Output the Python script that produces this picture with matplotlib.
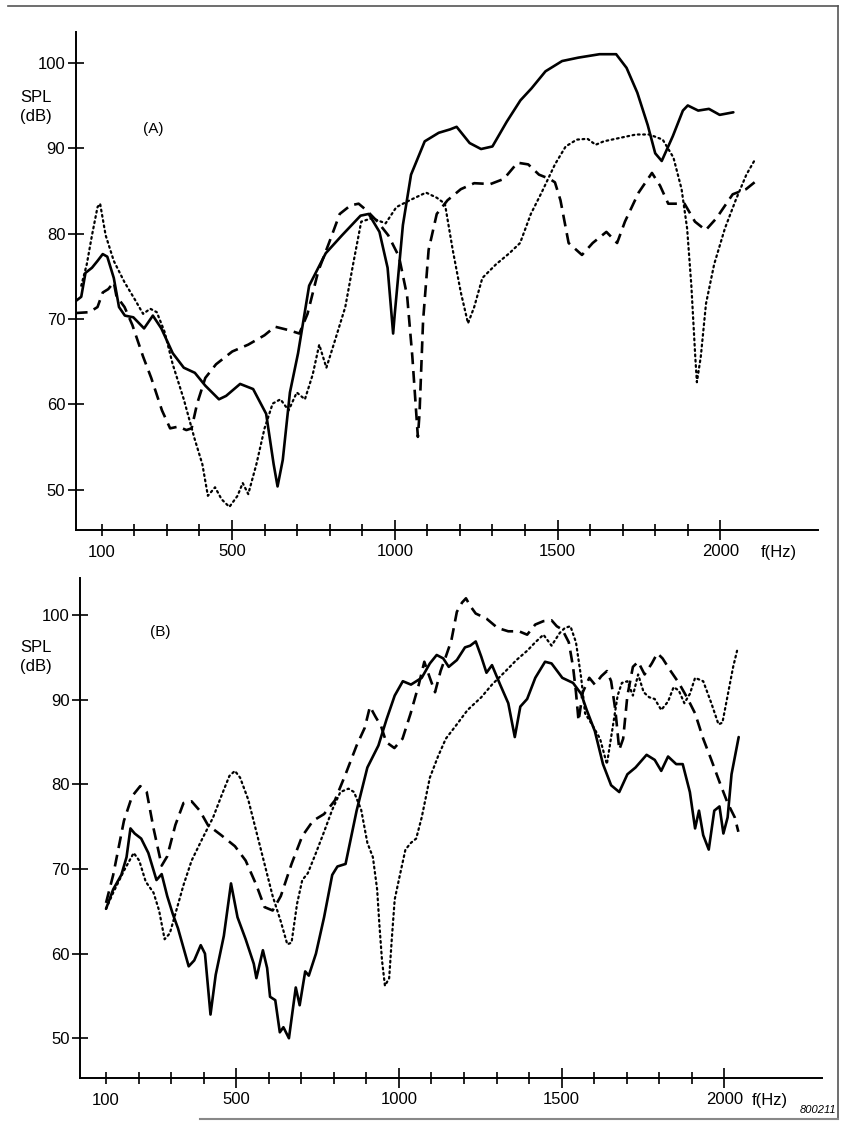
import matplotlib
matplotlib.use("Agg")
import matplotlib.pyplot as plt
from matplotlib.ticker import FixedLocator

plt.rcParams['font.family'] = ['Liberation Sans Narrow', 'Liberation Sans', 'DejaVu Sans']

# ---------------- Panel A data ----------------
a_solid_f = [20, 37, 50, 70, 87, 103, 117, 137, 153, 171, 197, 230, 257, 283, 318, 352, 386, 418, 460, 482,
             525, 565, 605, 628, 640, 656, 678, 703, 737, 788, 838, 895, 920, 953, 978, 995, 1000, 1025, 1050,
             1092, 1135, 1170, 1190, 1230, 1265, 1300, 1344, 1386, 1420, 1463, 1514, 1564, 1629, 1680, 1712,
             1745, 1777, 1800, 1820, 1854, 1885, 1900, 1932, 1965, 1998, 2040]
a_solid_db = [72.1, 72.6, 75.4, 76.0, 76.8, 77.6, 77.3, 74.8, 71.4, 70.4, 70.2, 68.9, 70.4, 68.9, 66.0, 64.3,
              63.7, 62.2, 60.6, 61.0, 62.4, 61.8, 58.9, 53.0, 50.4, 53.5, 61.4, 66.0, 73.9, 77.7, 79.8, 82.1,
              82.3, 80.2, 76.0, 68.3, 70.6, 81.0, 86.9, 90.8, 91.8, 92.2, 92.5, 90.6, 89.9, 90.2, 93.1, 95.6,
              97.0, 99.0, 100.2, 100.6, 101.0, 101.0, 99.4, 96.5, 92.7, 89.4, 88.5, 91.4, 94.4, 95.0, 94.4,
              94.6, 93.9, 94.2]

a_dash_f = [20, 62, 87, 103, 120, 137, 145, 170, 194, 227, 252, 285, 310, 335, 360, 376, 393, 418, 451, 501,
            550, 600, 632, 674, 707, 732, 765, 798, 831, 864, 889, 914, 947, 980, 1013, 1038, 1054, 1071, 1076,
            1087, 1104, 1129, 1162, 1203, 1244, 1294, 1335, 1377, 1410, 1443, 1476, 1492, 1509, 1534, 1575,
            1608, 1650, 1683, 1707, 1749, 1790, 1815, 1840, 1890, 1922, 1955, 1988, 2038, 2079, 2118]
a_dash_db = [70.7, 70.8, 71.4, 73.1, 73.5, 74.3, 72.7, 71.4, 69.3, 65.6, 63.1, 59.3, 57.2, 57.4, 57.0, 57.2,
             60.1, 63.1, 64.7, 66.2, 67.0, 68.1, 69.1, 68.7, 68.3, 70.6, 75.6, 78.9, 82.3, 83.3, 83.5, 82.7,
             81.4, 79.8, 77.3, 72.7, 65.6, 56.2, 58.9, 69.8, 78.1, 82.3, 83.9, 85.2, 85.9, 85.8, 86.4, 88.3,
             88.1, 86.9, 86.4, 86.0, 83.9, 78.9, 77.5, 78.9, 80.2, 78.9, 81.4, 84.8, 87.1, 85.6, 83.5, 83.5,
             81.4, 80.4, 81.8, 84.6, 85.2, 86.4]

a_dot_f = [37, 54, 70, 87, 95, 112, 137, 170, 203, 227, 249, 269, 293, 318, 352, 385, 409, 426, 448, 468, 492,
           517, 533, 550, 575, 600, 625, 649, 674, 699, 724, 748, 768, 790, 814, 848, 872, 897, 930, 972, 1005,
           1046, 1096, 1129, 1154, 1178, 1203, 1225, 1244, 1269, 1311, 1352, 1385, 1418, 1451, 1492, 1525, 1559,
           1592, 1617, 1642, 1691, 1741, 1782, 1823, 1856, 1881, 1898, 1911, 1923, 1928, 1940, 1956, 1981,
           2014, 2047, 2080, 2104]
a_dot_db = [73.9, 76.4, 79.8, 83.1, 83.5, 79.8, 76.8, 74.3, 72.2, 70.6, 71.2, 70.8, 68.5, 64.7, 60.6, 56.0,
            53.0, 49.3, 50.3, 48.9, 48.0, 49.3, 50.8, 49.5, 53.0, 57.2, 60.1, 60.6, 59.3, 61.4, 60.6, 63.5,
            67.0, 64.3, 67.2, 71.4, 76.4, 81.4, 81.8, 81.2, 83.1, 83.9, 84.8, 84.2, 83.5, 78.1, 73.1, 69.5,
            71.4, 74.8, 76.4, 77.7, 78.9, 82.3, 84.8, 88.1, 90.2, 91.0, 91.1, 90.4, 90.8, 91.2, 91.6, 91.6,
            91.0, 88.9, 85.2, 80.6, 73.9, 65.6, 62.6, 65.6, 71.8, 76.4, 80.6, 83.9, 86.9, 88.5]

# ---------------- Panel B data ----------------
b_solid_f = [100, 122, 147, 163, 175, 188, 208, 230, 255, 271, 288, 305, 321, 354, 371, 391, 404, 421, 437,
             462, 484, 504, 529, 554, 562, 582, 595, 604, 620, 634, 645, 662, 683, 695, 712, 723, 745, 770,
             795, 811, 836, 870, 903, 937, 962, 987, 1012, 1037, 1070, 1095, 1116, 1136, 1153, 1178, 1203,
             1219, 1236, 1253, 1269, 1286, 1311, 1336, 1356, 1373, 1394, 1419, 1449, 1469, 1502, 1535, 1560,
             1577, 1602, 1627, 1652, 1677, 1702, 1727, 1761, 1786, 1806, 1827, 1852, 1872, 1894, 1910, 1922,
             1935, 1952, 1969, 1985, 1997, 2010, 2022, 2044]
b_solid_db = [65.3, 67.6, 69.3, 71.4, 74.8, 74.2, 73.6, 71.9, 68.7, 69.4, 66.8, 64.7, 63.0, 58.5, 59.2, 61.0,
              60.0, 52.8, 57.5, 62.1, 68.3, 64.3, 61.7, 58.8, 57.1, 60.4, 58.3, 54.9, 54.5, 50.7, 51.3, 50.0,
              56.0, 53.9, 57.9, 57.4, 60.0, 64.3, 69.3, 70.3, 70.6, 76.9, 82.0, 84.6, 87.7, 90.5, 92.2, 91.8,
              92.6, 94.3, 95.3, 94.9, 93.9, 94.7, 96.2, 96.4, 96.9, 95.1, 93.2, 94.1, 91.8, 89.6, 85.6, 89.2,
              90.1, 92.6, 94.5, 94.3, 92.6, 92.0, 90.7, 88.8, 86.3, 82.4, 79.9, 79.1, 81.2, 82.0, 83.5, 82.9,
              81.6, 83.3, 82.4, 82.4, 79.1, 74.8, 76.9, 74.0, 72.3, 76.9, 77.4, 74.2, 76.1, 81.2, 85.6]

b_dash_f = [100, 122, 155, 180, 205, 225, 246, 271, 288, 313, 338, 363, 388, 413, 454, 496, 529, 562, 587, 612,
            637, 670, 703, 736, 770, 803, 836, 870, 895, 911, 928, 945, 961, 986, 1011, 1036, 1061, 1078, 1095,
            1111, 1128, 1144, 1161, 1178, 1194, 1206, 1219, 1236, 1269, 1303, 1336, 1369, 1394, 1419, 1444,
            1469, 1485, 1502, 1522, 1535, 1544, 1552, 1565, 1585, 1602, 1622, 1639, 1652, 1665, 1677, 1689,
            1702, 1719, 1735, 1755, 1777, 1794, 1810, 1835, 1860, 1885, 1910, 1935, 1960, 1985, 2010, 2032, 2043]
b_dash_db = [66.0, 69.3, 75.7, 78.6, 79.8, 79.1, 74.8, 70.4, 71.5, 75.2, 77.8, 78.0, 76.9, 75.2, 74.0, 72.7,
             71.0, 68.1, 65.5, 65.1, 66.8, 70.6, 73.9, 75.7, 76.5, 78.1, 81.2, 84.6, 86.7, 89.2, 88.0, 86.9,
             85.0, 84.3, 85.4, 88.4, 91.8, 94.5, 92.6, 90.9, 93.4, 95.1, 97.0, 100.4, 101.5, 102.0, 101.1,
             100.2, 99.6, 98.5, 98.1, 98.1, 97.7, 98.9, 99.3, 99.4, 98.7, 98.3, 96.8, 93.9, 90.9, 87.5, 90.9,
             92.6, 91.8, 92.8, 93.4, 92.2, 88.8, 84.1, 85.4, 90.5, 93.9, 94.5, 93.0, 94.3, 95.5, 94.9, 93.4,
             92.0, 90.3, 88.4, 85.4, 82.9, 80.3, 77.8, 76.1, 74.4]

b_dot_f = [100, 122, 155, 185, 202, 222, 246, 263, 280, 296, 313, 338, 363, 396, 429, 454, 479, 496, 512, 537,
           562, 587, 612, 637, 657, 670, 687, 703, 720, 745, 770, 795, 820, 845, 862, 884, 903, 920, 933, 940,
           948, 957, 970, 978, 987, 1003, 1020, 1037, 1053, 1070, 1095, 1120, 1144, 1178, 1211, 1253, 1286,
           1328, 1361, 1394, 1419, 1444, 1469, 1494, 1510, 1527, 1544, 1560, 1572, 1593, 1618, 1639, 1655,
           1672, 1685, 1702, 1719, 1735, 1752, 1769, 1786, 1806, 1827, 1844, 1860, 1877, 1894, 1910, 1935,
           1960, 1982, 1994, 2010, 2027, 2039]
b_dot_db = [65.3, 67.2, 69.8, 71.9, 71.0, 68.5, 67.2, 65.1, 61.7, 62.4, 64.7, 68.1, 71.0, 73.6, 76.1, 78.6,
            81.0, 81.6, 80.8, 78.2, 74.4, 70.6, 66.8, 63.8, 61.1, 61.3, 65.9, 68.7, 69.5, 71.9, 74.4, 77.0,
            79.1, 79.5, 79.1, 77.0, 73.1, 71.4, 67.6, 63.4, 59.2, 56.2, 57.1, 61.7, 66.4, 69.3, 72.3, 73.1,
            73.6, 76.1, 80.8, 83.3, 85.4, 87.1, 88.8, 90.3, 91.8, 93.4, 94.7, 95.8, 96.8, 97.7, 96.4, 97.9,
            98.5, 98.7, 96.8, 92.6, 88.4, 87.1, 85.4, 82.4, 86.3, 90.5, 92.0, 92.2, 90.5, 93.0, 90.9, 90.3,
            90.1, 88.8, 89.8, 91.5, 91.1, 89.6, 90.7, 92.6, 92.2, 89.6, 87.1, 87.3, 90.5, 93.9, 95.8]

x_major = [500, 1000, 1500, 2000]
x_minor = [100, 200, 300, 400, 600, 700, 800, 900, 1100, 1200, 1300, 1400, 1600, 1700, 1800, 1900]
x_labels = ['500', '1000', '1500', '2000']
y_ticks = [50, 60, 70, 80, 90, 100]

W, H = 847, 1123
fig = plt.figure(figsize=(W / 100, H / 100), dpi=100)

SOLID = dict(color='black', lw=1.9, ls='-', solid_joinstyle='round', solid_capstyle='round')
DASH = dict(color='black', lw=1.9, ls=(0, (4.5, 2.6)))
DOT = dict(color='black', lw=1.6, ls=(0, (0.8, 1.6)), dash_capstyle='round')


def make_axes(rect, ytop, label, label_xy, fhz_x, series):
    ax = fig.add_axes(rect)
    for (f, d), st in zip(series, [SOLID, DASH, DOT]):
        ax.plot(f, d, **st)
    ax.set_xlim(20, 2300)
    ax.set_ylim(45.3, ytop)
    for s in ['top', 'right']:
        ax.spines[s].set_visible(False)
    for s in ['left', 'bottom']:
        ax.spines[s].set_linewidth(1.4)
    ax.xaxis.set_major_locator(FixedLocator(x_major))
    ax.xaxis.set_minor_locator(FixedLocator(x_minor))
    ax.set_xticklabels(x_labels)
    ax.set_yticks(y_ticks)
    ax.set_yticklabels([str(v) for v in y_ticks])
    ax.tick_params(axis='x', which='major', direction='inout', length=14, width=1.2,
                   labelsize=12, pad=3)
    ax.tick_params(axis='x', which='minor', direction='inout', length=8, width=1.2)
    ax.tick_params(axis='y', which='major', direction='inout', length=11, width=1.2,
                   labelsize=12, pad=2)
    ax.text(100, -0.03, '100', transform=ax.get_xaxis_transform(), ha='center', va='top',
            fontsize=12)
    ax.text(fhz_x, -0.03, 'f(Hz)', transform=ax.get_xaxis_transform(), ha='center', va='top',
            fontsize=12)
    ax.text(label_xy[0], label_xy[1], label, fontsize=11, ha='left', va='center')
    return ax


axA = make_axes([75.7 / W, 1 - 530 / H, (818 - 75.7) / W, (530 - 32) / H], 103.6, '(A)', (226, 92.2),
                2180, [(a_solid_f, a_solid_db), (a_dash_f, a_dash_db), (a_dot_f, a_dot_db)])
axB = make_axes([80 / W, 1 - 1078 / H, (822 - 80) / W, (1078 - 578) / H], 104.4, '(B)', (235, 98.0),
                2140, [(b_solid_f, b_solid_db), (b_dash_f, b_dash_db), (b_dot_f, b_dot_db)])

fig.text(20 / W, 1 - 98 / H, 'SPL', fontsize=12, ha='left', va='center')
fig.text(20 / W, 1 - 117 / H, '(dB)', fontsize=12, ha='left', va='center')
fig.text(20 / W, 1 - 648 / H, 'SPL', fontsize=12, ha='left', va='center')
fig.text(20 / W, 1 - 667 / H, '(dB)', fontsize=12, ha='left', va='center')
fig.text(836 / W, 1 - 1110 / H, '800211', fontsize=8, ha='right', va='center', style='italic')

# page frame of the scan
fig.add_artist(plt.Line2D([8 / W, 838 / W], [1 - 6 / H, 1 - 6 / H], color='#555555', lw=1.2))
fig.add_artist(plt.Line2D([838 / W, 838 / W], [1 - 6 / H, 1 - 1118 / H], color='#555555', lw=1.2))
fig.add_artist(plt.Line2D([200 / W, 838 / W], [1 - 1119 / H, 1 - 1119 / H], color='#888888', lw=1.5))

fig.savefig('out.png', dpi=100)
